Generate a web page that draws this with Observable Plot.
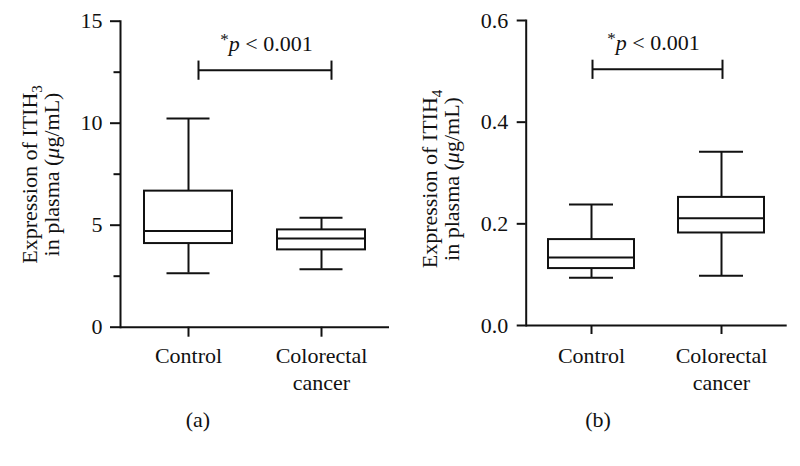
<!DOCTYPE html>
<html><head><meta charset="utf-8">
<script src="https://cdn.jsdelivr.net/npm/d3@7"></script>
<script src="https://cdn.jsdelivr.net/npm/@observablehq/plot@0.6"></script>
<style>
body{margin:0;background:#fff;}
#wrap{position:relative;width:800px;height:466px;font-family:"Liberation Serif",serif;color:#111;}
.panel{position:absolute;top:0;width:400px;height:400px;}
.cap{position:absolute;top:409px;width:100px;text-align:center;font-size:22px;line-height:22px;}
</style></head><body>
<div id="wrap">
  <div id="pa" class="panel" style="left:0"></div>
  <div id="pb" class="panel" style="left:400px"></div>
  <div id="ca" class="cap" style="left:148px"></div>
  <div id="cb" class="cap" style="left:548px"></div>
</div>
<script>
// ---- data ----
const categories = ["Control", "Colorectal cancer"];
const tickLabels = ["Control", "Colorectal\ncancer"];

const itih3Min    = [2.65, 2.84];
const itih3Q1     = [4.10, 3.79];
const itih3Median = [4.71, 4.35];
const itih3Q3     = [6.67, 4.77];
const itih3Max    = [10.23, 5.36];

const itih4Min    = [0.094, 0.098];
const itih4Q1     = [0.112, 0.182];
const itih4Median = [0.134, 0.211];
const itih4Q3     = [0.169, 0.252];
const itih4Max    = [0.238, 0.342];

const itih3Ticks = [0, 5, 10, 15];
const itih3MinorTicks = [2.5, 7.5, 12.5];
const itih4Ticks = [0, 0.2, 0.4, 0.6];

const sigLabel = "*p < 0.001";
const itih3SigY = 12.6;
const itih4SigY = 0.504;
const panelLabels = ["(a)", "(b)"];

// ---- drawing ----
const INK = "#111";
const FONT = '"Liberation Serif", serif';
const vbar = {draw(ctx, size) { const h = Math.sqrt(size / Math.PI); ctx.moveTo(0, -h); ctx.lineTo(0, h); }};

function rowsFrom(mins, q1s, meds, q3s, maxs) {
  return categories.map((c, i) => ({cat: c, min: mins[i], q1: q1s[i], med: meds[i], q3: q3s[i], max: maxs[i]}));
}

function panel(cfg) {
  const rows = cfg.rows;
  const H = 400;
  const sig = {from: categories[0], to: categories[1], y: cfg.sigY, label: sigLabel};
  const txt = {fontFamily: FONT, fontSize: 22, fill: INK};
  const marks = [
    Plot.ruleX(rows, {x: "cat", y1: "min", y2: "q1", stroke: INK, strokeWidth: 2}),
    Plot.ruleX(rows, {x: "cat", y1: "q3", y2: "max", stroke: INK, strokeWidth: 2}),
    Plot.tickY(rows, {x: "cat", y: "min", insetLeft: cfg.capInset, insetRight: cfg.capInset, stroke: INK, strokeWidth: 2}),
    Plot.tickY(rows, {x: "cat", y: "max", insetLeft: cfg.capInset, insetRight: cfg.capInset, stroke: INK, strokeWidth: 2}),
    Plot.barY(rows, {x: "cat", y1: "q1", y2: "q3", fill: "white", stroke: INK, strokeWidth: 2}),
    Plot.tickY(rows, {x: "cat", y: "med", stroke: INK, strokeWidth: 2}),
    Plot.axisY(cfg.ticks, {tickSize: cfg.tickSize, tickPadding: cfg.tickPadding, tickFormat: cfg.fmt, stroke: INK, strokeWidth: 2, ...txt}),
    Plot.axisX({tickSize: cfg.tickSize, tickPadding: cfg.xPad, tickFormat: (d) => tickLabels[categories.indexOf(d)], lineHeight: 1.22, stroke: INK, strokeWidth: 2, ...txt}),
    Plot.frame({anchor: "left", stroke: INK, strokeWidth: 2}),
    Plot.ruleY([0], {stroke: INK, strokeWidth: 2}),
    Plot.link([sig], {x1: "from", x2: "to", y1: "y", y2: "y", dx: cfg.barDx, stroke: INK, strokeWidth: 2}),
    Plot.dot([sig, sig], {x: (d, i) => i === 0 ? d.from : d.to, y: "y", dx: cfg.barDx, r: 9.6, symbol: vbar, stroke: INK, strokeWidth: 2, fill: "none"}),
    Plot.text([sig], {x: "from", y: "y", text: "label", dx: cfg.textDx, dy: -19, lineAnchor: "bottom", ...txt})
  ];
  if (cfg.minor) marks.push(Plot.axisY(cfg.minor, {tickSize: 6.5, tickFormat: () => "", stroke: INK, strokeWidth: 2}));
  const svg = Plot.plot({
    width: 400, height: H,
    marginLeft: cfg.left, marginRight: 400 - cfg.right, marginTop: cfg.top, marginBottom: H - cfg.bottom,
    style: {fontFamily: FONT, fontSize: "22px", color: INK, background: "transparent", overflow: "visible"},
    x: {type: "band", domain: categories, paddingInner: 0.335, paddingOuter: cfg.pOuter, axis: null},
    y: {domain: cfg.yDomain, axis: null},
    marks
  });
  // significance label styling
  d3.select(svg).selectAll("text").filter(function() { return this.textContent === sigLabel; }).each(function() {
    const t = d3.select(this);
    t.text(null);
    t.append("tspan").attr("font-size", "17px").attr("dy", "-6").text("*");
    t.append("tspan").attr("font-style", "italic").attr("dy", "6").text("p");
    t.append("tspan").text(" < 0.001");
  });
  // y-axis title (two lines, rotated)
  const g = d3.select(svg).append("g").attr("fill", INK).attr("font-size", "22px").attr("text-anchor", "middle");
  const t1 = g.append("text").attr("transform", `translate(${cfg.lab1x},${cfg.labY}) rotate(-90)`);
  t1.append("tspan").text("Expression of ITIH");
  t1.append("tspan").attr("font-size", "15px").attr("dy", "5").text(cfg.sub);
  const t2 = g.append("text").attr("transform", `translate(${cfg.lab2x},${cfg.labY}) rotate(-90)`);
  t2.append("tspan").text("in plasma (");
  t2.append("tspan").attr("font-style", "italic").text("\u03bc");
  t2.append("tspan").text("g/mL)");
  // force the serif face on every text node
  d3.select(svg).selectAll("text").style("font-family", FONT).style("font-variant", "normal");
  return svg;
}

document.getElementById("pa").append(panel({
  rows: rowsFrom(itih3Min, itih3Q1, itih3Median, itih3Q3, itih3Max),
  yDomain: [0, 15], ticks: itih3Ticks, minor: itih3MinorTicks, fmt: (d) => String(d),
  left: 120, right: 389, top: 20.7, bottom: 326.7, pOuter: 0.173,
  tickSize: 10, tickPadding: 8, xPad: 7, capInset: 22.5,
  sigY: itih3SigY, barDx: 10, textDx: 78, sub: "3", lab1x: 37, lab2x: 59, labY: 174.5
}));
document.getElementById("pb").append(panel({
  rows: rowsFrom(itih4Min, itih4Q1, itih4Median, itih4Q3, itih4Max),
  yDomain: [0, 0.6], ticks: itih4Ticks, minor: null, fmt: (d) => d.toFixed(1),
  left: 125.7, right: 386.7, top: 20, bottom: 325, pOuter: 0.167,
  tickSize: 9, tickPadding: 9, xPad: 9.7, capInset: 21,
  sigY: itih4SigY, barDx: 1, textDx: 62, sub: "4", lab1x: 36.7, lab2x: 59, labY: 179
}));
document.getElementById("ca").textContent = panelLabels[0];
document.getElementById("cb").textContent = panelLabels[1];
</script>
</body></html>
